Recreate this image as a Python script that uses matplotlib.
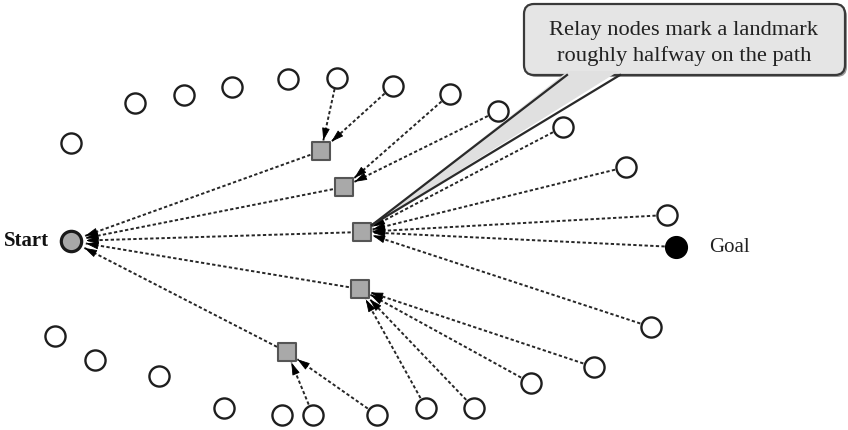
import numpy as np
import matplotlib.pyplot as plt
from matplotlib.patches import FancyBboxPatch, Polygon

# node positions (pixel-like units, y grows downward)
start = (71, 242)
goal = (676, 248)
relay_x = [321, 344, 362, 360, 287]
relay_y = [152, 188, 233, 290, 353]
circle_x = [71, 135, 184, 232, 288, 337, 393, 450, 498, 563, 626, 667,
            651, 594, 531, 474, 426, 377, 313, 282, 224, 159, 95, 55]
circle_y = [144, 104, 96, 88, 80, 79, 87, 95, 112, 128, 168, 216,
            328, 368, 384, 409, 409, 416, 416, 416, 409, 377, 361, 337]

# (source circle index or 'goal', relay index)
links = [(5, 0), (6, 0), (7, 1), (8, 1),
         (9, 2), (10, 2), (11, 2), ('goal', 2), (12, 2),
         (13, 3), (14, 3), (15, 3), (16, 3),
         (17, 4), (18, 4)]

callout_lines = ["Relay nodes mark a landmark", "roughly halfway on the path"]

fig = plt.figure(figsize=(8.48, 4.31), dpi=100)
ax = fig.add_axes([0, 0, 1, 1])
ax.set_xlim(0, 848)
ax.set_ylim(431, 0)
ax.axis('off')

line_kw = dict(color='#262626', lw=1.4, dashes=[1.7, 1.2], zorder=1)


def arrow(src, dst, gap, kind):
    sx, sy = src
    tx, ty = dst
    d = np.hypot(tx - sx, ty - sy)
    ux, uy = (tx - sx) / d, (ty - sy) / d
    if kind == 'square':
        half = 9.5
        back = half / max(abs(ux), abs(uy)) + gap
    else:
        back = gap
    ex, ey = tx - ux * back, ty - uy * back
    ax.plot([sx, ex], [sy, ey], **line_kw)
    hl = 10
    ax.annotate('', xy=(ex, ey), xytext=(ex - ux * hl, ey - uy * hl),
                arrowprops=dict(arrowstyle='-|>,head_length=0.65,head_width=0.2',
                                mutation_scale=12, color='black', lw=0.6,
                                shrinkA=0, shrinkB=0), zorder=2)


for s, r in links:
    src = goal if s == 'goal' else (circle_x[s], circle_y[s])
    arrow(src, (relay_x[r], relay_y[r]), 1, 'square')

for r in range(len(relay_x)):
    arrow((relay_x[r], relay_y[r]), start, 15, 'circle')

# nodes
ax.scatter(circle_x, circle_y, s=210, marker='o', facecolors='white',
           edgecolors='#1e1e1e', linewidths=1.7, zorder=3)
ax.scatter(relay_x, relay_y, s=150, marker='s', facecolors='#a9a9a9',
           edgecolors='#555555', linewidths=1.5, zorder=3)
ax.scatter([start[0]], [start[1]], s=215, marker='o', facecolors='#a8a8a8',
           edgecolors='#1a1a1a', linewidths=2.3, zorder=3)
ax.scatter([goal[0]], [goal[1]], s=245, marker='o', facecolors='black',
           edgecolors='black', linewidths=1, zorder=3)

ax.text(49, 241, "Start", fontsize=15, fontweight='bold', family='Liberation Serif',
        ha='right', va='center', color='#111111')
ax.text(709, 248, "Goal", fontsize=15, family='Liberation Serif',
        ha='left', va='center', color='#222222')

# callout bubble
shadow = FancyBboxPatch((526, 7), 321, 71, boxstyle='round,pad=0,rounding_size=10',
                        facecolor='#9a9a9a', edgecolor='none', zorder=4)
ax.add_patch(shadow)
box = FancyBboxPatch((524, 5), 321, 71, boxstyle='round,pad=0,rounding_size=10',
                     facecolor='#e5e5e5', edgecolor='#3a3a3a', lw=1.6, zorder=5)
ax.add_patch(box)
tip = (372, 226)
base_l, base_r = (567, 76), (620, 76)
ax.add_patch(Polygon([tip, (base_l[0] + 1, 72), (base_r[0] - 1, 72)],
                     closed=True, facecolor='#e0e0e0', edgecolor='none', zorder=6))
ax.plot([tip[0], base_l[0]], [tip[1], base_l[1]], color='#2a2a2a', lw=1.6, zorder=7)
ax.plot([tip[0], base_r[0]], [tip[1], base_r[1]], color='#2a2a2a', lw=1.6, zorder=7)

ax.text(684, 30, callout_lines[0], fontsize=16.2, family='Liberation Serif',
        ha='center', va='center', color='#222222', zorder=8)
ax.text(684, 56, callout_lines[1], fontsize=16.2, family='Liberation Serif',
        ha='center', va='center', color='#222222', zorder=8)

fig.savefig('out.png', dpi=100)
